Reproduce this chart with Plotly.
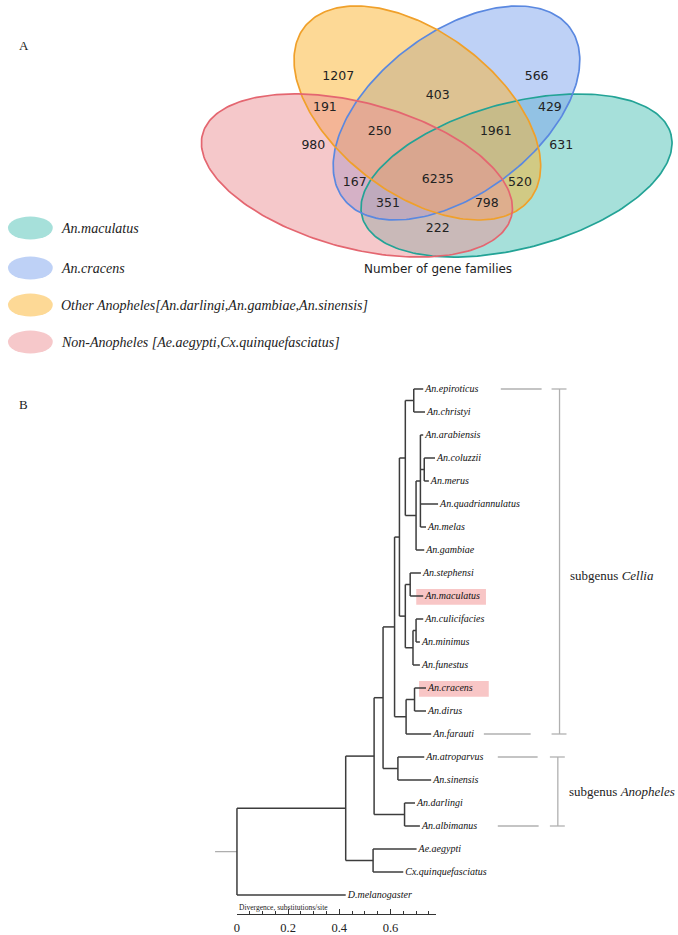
import numpy as np
import plotly.graph_objects as go

W, H = 678, 935

# ---------------- data ----------------
venn_set_keys = ["M", "C", "O", "N"]
venn_set_names = ["An.maculatus", "An.cracens",
                  "Other Anopheles[An.darlingi,An.gambiae,An.sinensis]",
                  "Non-Anopheles [Ae.aegypti,Cx.quinquefasciatus]"]
venn_region_keys = ["O", "C", "ON", "OC", "CM", "OCN", "OCM", "N", "M",
                    "OCMN", "CN", "OM", "CMN", "OMN", "MN"]
venn_counts = [1207, 566, 191, 403, 429, 250, 1961, 980, 631,
               6235, 167, 520, 351, 798, 222]
venn_caption = "Number of gene families"

tree_leaves = ["An.epiroticus", "An.christyi", "An.arabiensis", "An.coluzzii",
               "An.merus", "An.quadriannulatus", "An.melas", "An.gambiae",
               "An.stephensi", "An.maculatus", "An.culicifacies", "An.minimus",
               "An.funestus", "An.cracens", "An.dirus", "An.farauti",
               "An.atroparvus", "An.sinensis", "An.darlingi", "An.albimanus",
               "Ae.aegypti", "Cx.quinquefasciatus", "D.melanogaster"]
tree_leaf_depth = [0.728, 0.735, 0.728, 0.774, 0.750, 0.786, 0.739, 0.732,
                   0.719, 0.728, 0.728, 0.715, 0.715, 0.739, 0.739, 0.759,
                   0.732, 0.759, 0.696, 0.715, 0.702, 0.650, 0.425]
tree_node_names = ["E", "CM", "H", "G", "C", "SM", "CMi", "CulG", "D", "P",
                   "CD", "FarG", "Cellia", "AnoSub", "B", "Nys", "X1", "Cul",
                   "A", "root"]
tree_node_depth = [0.691, 0.732, 0.717, 0.700, 0.658, 0.677, 0.700, 0.688,
                   0.658, 0.635, 0.694, 0.661, 0.616, 0.629, 0.571, 0.655,
                   0.536, 0.532, 0.425, 0.0]
tree_node_children = [
    ["An.epiroticus", "An.christyi"],
    ["An.coluzzii", "An.merus"],
    ["An.arabiensis", "CM", "An.quadriannulatus", "An.melas"],
    ["H", "An.gambiae"],
    ["E", "G"],
    ["An.stephensi", "An.maculatus"],
    ["An.culicifacies", "An.minimus"],
    ["CMi", "An.funestus"],
    ["SM", "CulG"],
    ["C", "D"],
    ["An.cracens", "An.dirus"],
    ["CD", "An.farauti"],
    ["P", "FarG"],
    ["An.atroparvus", "An.sinensis"],
    ["Cellia", "AnoSub"],
    ["An.darlingi", "An.albimanus"],
    ["B", "Nys"],
    ["Ae.aegypti", "Cx.quinquefasciatus"],
    ["X1", "Cul"],
    ["A", "D.melanogaster"],
]
highlight_leaves = ["An.maculatus", "An.cracens"]
subgenus_names = ["Cellia", "Anopheles"]
subgenus_first = ["An.epiroticus", "An.atroparvus"]
subgenus_last = ["An.farauti", "An.albimanus"]
scale_tick_vals = [0, 0.2, 0.4, 0.6]
scale_tick_text = ["0", "0.2", "0.4", "0.6"]
scale_title = "Divergence, substitutions/site"

# ---------------- layout constants ----------------
SERIF = "Liberation Serif, Times New Roman, serif"
SANS = "DejaVu Sans, sans-serif"
X0_PX, PX_PER_UNIT = 235, 257.0
LEAF0_PX, LEAF_STEP = 389, 23.0
SCALE_MAX = 0.778
AXIS_Y_PX = 914

venn_geom = {
    "M": dict(cx=515.8, cy=175.5, a=160.5, b=72.8, rot=-14.9,
              fill="rgba(77,193,181,0.5)", line="#23A396", key="rgb(166,224,218)"),
    "C": dict(cx=455.5, cy=113.0, a=142.3, b=80.9, rot=-36.75,
              fill="rgba(125,163,237,0.5)", line="#5A88E0", key="rgb(190,209,246)"),
    "O": dict(cx=416.2, cy=113.0, a=142.3, b=80.9, rot=36.75,
              fill="rgba(251,180,46,0.5)", line="#F0A02A", key="rgb(253,217,150)"),
    "N": dict(cx=355.5, cy=175.5, a=160.5, b=72.8, rot=14.9,
              fill="rgba(236,146,150,0.5)", line="#E46670", key="rgb(246,200,202)"),
}
venn_label_pos = {
    "O": (336.7, 77.3), "C": (536, 77.3), "OC": (436.7, 95.7), "ON": (323.3, 107.7),
    "CM": (549.3, 107.7), "OCN": (378.3, 131.7), "OCM": (495, 131.7),
    "N": (311.7, 146), "M": (560.7, 146), "OCMN": (436.7, 180),
    "CN": (353.3, 182.7), "OM": (519.3, 182.7), "CMN": (386.7, 204.3),
    "OMN": (486, 204.3), "MN": (436.7, 229),
}
legend_rows_py = [228, 268, 305, 342]

fig = go.Figure()

# ---------------- Venn ----------------
t = np.linspace(0, 2 * np.pi, 240)
ell_pts = {}
for k in venn_set_keys:
    g = venn_geom[k]
    th = np.deg2rad(g["rot"])
    ex = g["cx"] + g["a"] * np.cos(t) * np.cos(th) - g["b"] * np.sin(t) * np.sin(th)
    ey = g["cy"] + g["a"] * np.cos(t) * np.sin(th) + g["b"] * np.sin(t) * np.cos(th)
    ell_pts[k] = (ex, ey)
    fig.add_trace(go.Scatter(x=ex, y=ey, mode="lines", fill="toself",
                             fillcolor=g["fill"], line=dict(width=0),
                             hoverinfo="skip", showlegend=False,
                             xaxis="x", yaxis="y"))
for k in venn_set_keys:
    ex, ey = ell_pts[k]
    fig.add_trace(go.Scatter(x=ex, y=ey, mode="lines",
                             line=dict(width=1.7, color=venn_geom[k]["line"]),
                             hoverinfo="skip", showlegend=False,
                             xaxis="x", yaxis="y"))

fig.add_trace(go.Scatter(
    x=[venn_label_pos[r][0] for r in venn_region_keys],
    y=[venn_label_pos[r][1] for r in venn_region_keys],
    text=[str(c) for c in venn_counts], mode="text",
    textfont=dict(family=SANS, size=12.5, color="#222"),
    hoverinfo="skip", showlegend=False, xaxis="x", yaxis="y"))

shapes = []
annotations = []
annotations.append(dict(x=436.7, y=268.5, xref="x", yref="y", text=venn_caption,
                        showarrow=False, font=dict(family=SANS, size=12, color="#222")))
for k, name, py in zip(venn_set_keys, venn_set_names, legend_rows_py):
    shapes.append(dict(type="circle", xref="x", yref="y", x0=5, x1=50,
                       y0=py - 11.5, y1=py + 11.5, fillcolor=venn_geom[k]["key"],
                       line=dict(width=0), layer="below"))
    annotations.append(dict(x=56, y=py, xref="x", yref="y", text="<i>%s</i>" % name,
                            xanchor="left", showarrow=False,
                            font=dict(family=SERIF, size=14, color="#222")))
annotations.append(dict(x=21, y=45, xref="x", yref="y", text="A", showarrow=False,
                        font=dict(family=SERIF, size=13, color="#222")))
annotations.append(dict(x=21, y=404, xref="x", yref="y", text="B", showarrow=False,
                        font=dict(family=SERIF, size=13, color="#222")))

# ---------------- Tree ----------------
y_of = {n: i for i, n in enumerate(tree_leaves)}
d_of = dict(zip(tree_leaves, tree_leaf_depth))
for name, d, ch in zip(tree_node_names, tree_node_depth, tree_node_children):
    ys = [y_of[c] for c in ch]
    y_of[name] = (min(ys) + max(ys)) / 2.0
    d_of[name] = d

lx, ly = [], []
for name, ch in zip(tree_node_names, tree_node_children):
    d = d_of[name]
    ys = [y_of[c] for c in ch]
    lx += [d, d, None]
    ly += [min(ys), max(ys), None]
    for c in ch:
        lx += [d, d_of[c], None]
        ly += [y_of[c], y_of[c], None]

root_y = y_of["root"]
fig.add_trace(go.Scatter(x=[-22 / PX_PER_UNIT, 0], y=[root_y, root_y], mode="lines",
                         line=dict(color="#aaaaaa", width=1.2), hoverinfo="skip",
                         showlegend=False, xaxis="x2", yaxis="y2"))
fig.add_trace(go.Scatter(x=lx, y=ly, mode="lines",
                         line=dict(color="#3c3c3c", width=1.5), hoverinfo="skip",
                         showlegend=False, xaxis="x2", yaxis="y2"))

# highlight boxes
for leaf in highlight_leaves:
    d = d_of[leaf]
    i = y_of[leaf]
    shapes.append(dict(type="rect", xref="x2", yref="y2", x0=d - 7 / PX_PER_UNIT,
                       x1=d + 63 / PX_PER_UNIT, y0=i - 0.3, y1=i + 0.38,
                       fillcolor="#F8C6C6", line=dict(width=0), layer="below"))

fig.add_trace(go.Scatter(
    x=[d_of[n] + 2 / PX_PER_UNIT for n in tree_leaves],
    y=[y_of[n] for n in tree_leaves],
    text=["<i>%s</i>" % n for n in tree_leaves], mode="text",
    textposition="middle right",
    textfont=dict(family=SERIF, size=10, color="#111"),
    hoverinfo="skip", showlegend=False, xaxis="x2", yaxis="y2"))

# subgenus brackets
def u(px):
    return (px - X0_PX) / PX_PER_UNIT

bx, by = [], []
bracket_px = [559, 557.3]
conn = [[(500, 541), (483, 530)], [(497, 537), (497, 538)]]
label_dy = [0.6, 0.0]
for gi, (nm, f, l) in enumerate(zip(subgenus_names, subgenus_first, subgenus_last)):
    y0, y1 = y_of[f], y_of[l]
    xb = u(bracket_px[gi])
    bx += [xb, xb, None, u(bracket_px[gi] - 8), u(bracket_px[gi] + 7), None,
           u(bracket_px[gi] - 8), u(bracket_px[gi] + 7), None]
    by += [y0, y1, None, y0, y0, None, y1, y1, None]
    for (a, b), yy in zip(conn[gi], [y0, y1]):
        bx += [u(a), u(b), None]
        by += [yy, yy, None]
    annotations.append(dict(x=u(bracket_px[gi] + 9), y=(y0 + y1) / 2 + label_dy[gi],
                            xref="x2", yref="y2", xanchor="left", showarrow=False,
                            text="subgenus <i>%s</i>" % nm,
                            font=dict(family=SERIF, size=13, color="#222")))
fig.add_trace(go.Scatter(x=bx, y=by, mode="lines",
                         line=dict(color="#b0b0b0", width=1.3), hoverinfo="skip",
                         showlegend=False, xaxis="x2", yaxis="y2"))

# scale axis
fig.add_trace(go.Scatter(x=[0, SCALE_MAX], y=[0.5, 0.5], mode="lines",
                         line=dict(width=0), hoverinfo="skip", showlegend=False,
                         xaxis="x3", yaxis="y3"))
annotations.append(dict(x=X0_PX, y=AXIS_Y_PX - 7, xref="x", yref="y", xanchor="left",
                        text=scale_title, showarrow=False,
                        font=dict(family=SERIF, size=7.5, color="#222")))

hidden = dict(visible=False, showgrid=False, zeroline=False, fixedrange=True)
fig.update_layout(
    width=W, height=H, margin=dict(l=0, r=0, t=0, b=0),
    paper_bgcolor="white", plot_bgcolor="rgba(0,0,0,0)",
    xaxis=dict(domain=[0, 1], range=[0, W], **hidden),
    yaxis=dict(domain=[0, 1], range=[H, 0], **hidden),
    xaxis2=dict(domain=[0, 1], range=[u(0), u(W)], anchor="y2", **hidden),
    yaxis2=dict(domain=[0, 1], anchor="x2",
                range=[(H - LEAF0_PX) / LEAF_STEP, -LEAF0_PX / LEAF_STEP], **hidden),
    xaxis3=dict(domain=[X0_PX / W, (X0_PX + SCALE_MAX * PX_PER_UNIT) / W],
                range=[0, SCALE_MAX], anchor="y3", showline=True, linecolor="#333",
                linewidth=1, ticks="inside", ticklen=5, tickcolor="#333",
                tickvals=scale_tick_vals, ticktext=scale_tick_text,
                tickfont=dict(family=SERIF, size=12.5, color="#222"),
                showgrid=False, zeroline=False, ticklabelstandoff=2,
                minor=dict(dtick=0.05, tick0=0, ticks="inside", ticklen=3,
                           tickcolor="#333", showgrid=False)),
    yaxis3=dict(domain=[(H - AXIS_Y_PX) / H, (H - AXIS_Y_PX + 10) / H],
                range=[0, 1], anchor="x3", **hidden),
    shapes=shapes, annotations=annotations,
)

fig.write_html("out.html", config={"displayModeBar": False},
               post_script="document.body.style.margin='0px';"
                           "document.body.style.padding='0px';"
                           "document.body.style.overflow='hidden';")
